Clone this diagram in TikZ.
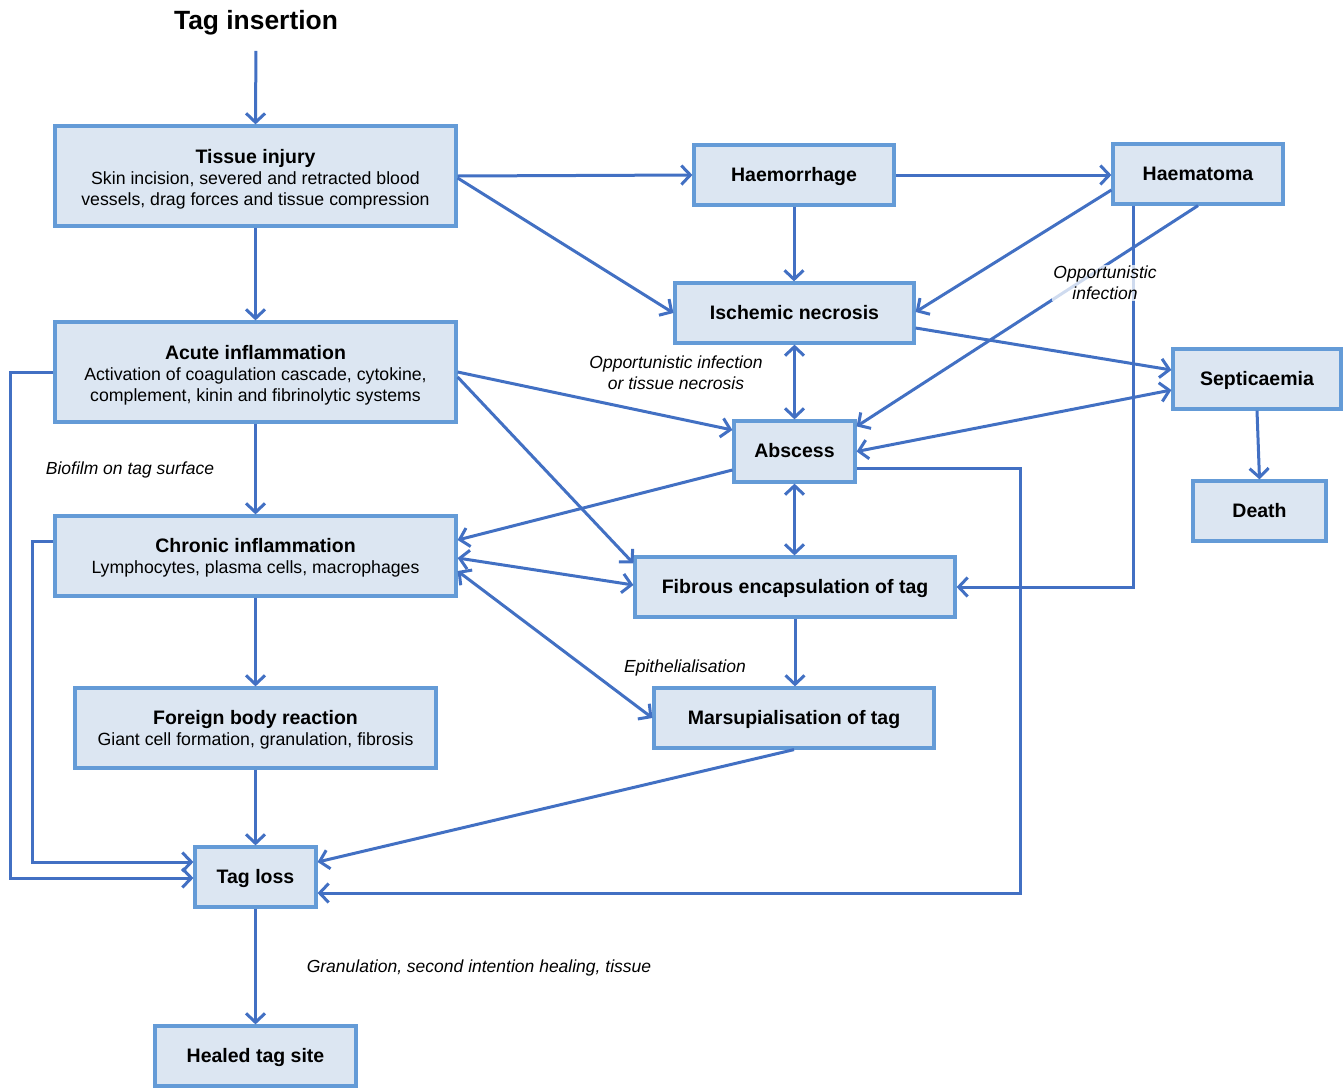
\documentclass[tikz,border=0pt]{standalone}
\usepackage{fontspec}
\setmainfont{Liberation Sans}
\usetikzlibrary{arrows.meta,calc}
\definecolor{boxfill}{RGB}{220,230,242}
\definecolor{boxline}{RGB}{100,155,215}
\definecolor{arr}{RGB}{66,112,195}
\newcommand{\bx}[1]{\begin{tabular}[t]{@{}c@{}}#1\end{tabular}}
\begin{document}
\begin{tikzpicture}[x=1pt,y=-1pt,
  box/.style={draw=boxline,fill=boxfill,line width=3.2pt,inner sep=0pt,
    font=\fontsize{17.7}{21}\selectfont},
  one/.style={text height=14pt,text depth=2pt,font=\fontsize{19.5}{21}\selectfont\bfseries},
  two/.style={text height=14pt,text depth=22pt},
  three/.style={text height=14pt,text depth=40pt},
  hd/.style={},
  conn/.style={draw=arr,line width=3pt,-{Straight Barb[length=9pt,width=19pt]}},
  dconn/.style={draw=arr,line width=3pt,{Straight Barb[length=9pt,width=19pt]}-{Straight Barb[length=9pt,width=19pt]}},
  lbl/.style={font=\fontsize{17.5}{21}\selectfont\itshape,align=center,inner sep=1pt}]
\useasboundingbox (0,0) rectangle (1343,1087);

\node[font=\fontsize{26.4}{30}\selectfont\bfseries] (title) at (256,23) {Tag insertion};

\node[box,three,minimum width=401pt,minimum height=100pt] (ti) at (255.5,176)
  {\bx{{\fontsize{19.5}{21}\selectfont\bfseries Tissue injury}\\Skin incision, severed and retracted blood\\vessels, drag forces and tissue compression}};
\node[box,one,minimum width=200pt,minimum height=60pt] (hm) at (794,175) {Haemorrhage};
\node[box,one,minimum width=170pt,minimum height=60pt] (ht) at (1198,174) {Haematoma};
\node[box,one,minimum width=239pt,minimum height=60pt] (is) at (794.5,313) {Ischemic necrosis};
\node[box,three,minimum width=401pt,minimum height=100pt] (ac) at (255.5,372)
  {\bx{{\fontsize{19.5}{21}\selectfont\bfseries Acute inflammation}\\Activation of coagulation cascade, cytokine,\\complement, kinin and fibrinolytic systems}};
\node[box,one,minimum width=168pt,minimum height=60pt] (sp) at (1257,379) {Septicaemia};
\node[box,one,minimum width=121pt,minimum height=61pt] (ab) at (794.5,451.5) {Abscess};
\node[box,one,minimum width=133pt,minimum height=60pt] (de) at (1259.5,511) {Death};
\node[box,two,minimum width=401pt,minimum height=80pt] (ch) at (255.5,556)
  {\bx{{\fontsize{19.5}{21}\selectfont\bfseries Chronic inflammation}\\Lymphocytes, plasma cells, macrophages}};
\node[box,one,minimum width=320pt,minimum height=60pt] (fe) at (795,587) {Fibrous encapsulation of tag};
\node[box,two,minimum width=361pt,minimum height=80pt] (fb) at (255.5,728)
  {\bx{{\fontsize{19.5}{21}\selectfont\bfseries Foreign body reaction}\\Giant cell formation, granulation, fibrosis}};
\node[box,one,minimum width=280pt,minimum height=60pt] (ms) at (794,718) {Marsupialisation of tag};
\node[box,one,minimum width=121pt,minimum height=60pt] (tl) at (255.5,877) {Tag loss};
\node[box,one,minimum width=201pt,minimum height=60pt] (hs) at (255.5,1056) {Healed tag site};

% labels
\node[lbl] (l1) at (676,372.5) {Opportunistic infection\\or tissue necrosis};
\node[lbl] (l2) at (130,470) {Biofilm on tag surface};
\node[lbl] (l3) at (685,668) {Epithelialisation};
\node[lbl] (l4) at (479,968) {Granulation, second intention healing, tissue};

% main vertical chain
\draw[conn,shorten <=12pt] (title.south) -- (ti.north);
\draw[conn] (ti.south) -- (ac.north);
\draw[conn] (ac.south) -- (ch.north);
\draw[conn] (ch.south) -- (fb.north);
\draw[conn] (fb.south) -- (tl.north);
\draw[conn] (tl.south) -- (hs.north);

% top right
\draw[conn] (ti.east) -- (hm.west);
\draw[conn] ([yshift=-2pt]ti.east) -- (is.west);
\draw[conn] (hm.east) -- (ht.west |- hm.east);
\draw[conn] (hm.south) -- (hm.south |- is.north);
\draw[conn] ([yshift=-16pt]ht.west) -- ([yshift=1pt]is.east);
\draw[conn] ([yshift=-15pt]is.east) -- ([yshift=9pt]sp.west);
\draw[dconn] (is.south) -- (is.south |- ab.north);
\draw[conn] (sp.south) -- (de.north);
\draw[dconn] (ab.east) -- ([yshift=-11pt]sp.west);

% from haematoma
\draw[conn] (ht.south) -- ([yshift=-7pt]ab.north east);
\draw[conn] ([xshift=-65pt]ht.south) |- (fe.east);
\node[lbl,fill=white,fill opacity=0.75,text opacity=1] (l5) at (1105,283) {Opportunistic\\infection};

% acute / chronic connections
\draw[conn] (ac.east) -- ([yshift=21.5pt]ab.west);
\draw[conn] ([yshift=-5pt]ac.east) -- ([yshift=-8pt]fe.north west);
\draw[conn] ([yshift=-18.5pt]ab.west) -- ([yshift=16pt]ch.east);
\draw[dconn] ([yshift=-2pt]ch.east) -- ([yshift=2pt]fe.west);
\draw[dconn] ([yshift=-15pt]ch.east) -- (ms.west);
\draw[dconn] (ab.south) -- (ab.south |- fe.north);
\draw[conn] (fe.south) -- (fe.south |- ms.north);

% to tag loss
\coordinate (abx) at (1020,0);
\coordinate (a1) at ([yshift=-16.5pt]ab.east);
\coordinate (t1) at ([yshift=-16pt]tl.east);
\draw[conn] (a1) -- (a1 -| abx) -- (abx |- t1) -- (t1);
\draw[conn] (ms.south) -- ([yshift=15pt]tl.east);
\coordinate (lx1) at (10,0);
\coordinate (lx2) at (32,0);
\coordinate (t2) at ([yshift=-1pt]tl.west);
\coordinate (t3) at ([yshift=15pt]tl.west);
\coordinate (c3) at ([yshift=15pt]ch.west);
\draw[conn] (ac.west) -- (ac.west -| lx1) -- (lx1 |- t2) -- (t2);
\draw[conn] (c3) -- (c3 -| lx2) -- (lx2 |- t3) -- (t3);
\end{tikzpicture}
\end{document}
